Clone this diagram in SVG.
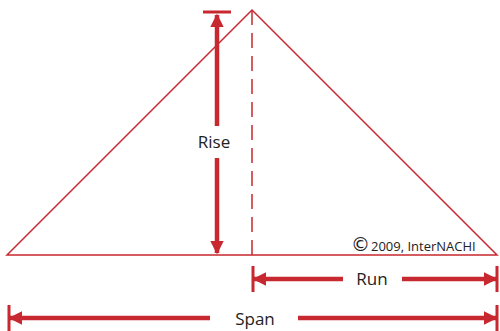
<svg xmlns="http://www.w3.org/2000/svg" width="500" height="331" viewBox="0 0 500 331">
<style>
.thin{stroke:#c8282f;stroke-width:1.5;fill:none}
.dim{stroke:#c8282f;stroke-width:4.5;fill:none}
.bar{stroke:#c8282f;stroke-width:3;fill:none}
.lbl{font-family:"Open Sans","DejaVu Sans",sans-serif;font-size:17px;fill:#222}
.cp{font-family:"Open Sans","DejaVu Sans",sans-serif;font-size:13px;fill:#222}
</style>
<defs>
<marker id="ah" viewBox="0 0 10 10" refX="9" refY="5" markerWidth="3" markerHeight="3" orient="auto-start-reverse" markerUnits="strokeWidth">
<path d="M0,0 L10,5 L0,10 Z" fill="#c8282f"/>
</marker>
</defs>
<rect width="500" height="331" fill="#fff"/>
<g id="roof">
<path class="thin" d="M7,255 L252,10 L497,255 Z"/>
<line class="thin" x1="252" y1="10" x2="252" y2="255" stroke-dasharray="15,8"/>
</g>
<g id="connectors">
<line class="bar" x1="203" y1="12" x2="231" y2="12"/>
<line class="dim" x1="217" y1="126" x2="217" y2="15" marker-end="url(#ah)"/>
<line class="dim" x1="217" y1="158" x2="217" y2="253" marker-end="url(#ah)"/>
<line class="bar" x1="253" y1="266" x2="253" y2="292"/>
<line class="bar" x1="497" y1="266" x2="497" y2="292"/>
<line class="dim" x1="343" y1="279" x2="254" y2="279" marker-end="url(#ah)"/>
<line class="dim" x1="402" y1="279" x2="496" y2="279" marker-end="url(#ah)"/>
<line class="bar" x1="9" y1="305" x2="9" y2="331"/>
<line class="bar" x1="497" y1="305" x2="497" y2="331"/>
<line class="dim" x1="210" y1="318" x2="10" y2="318" marker-end="url(#ah)"/>
<line class="dim" x1="298" y1="318" x2="496" y2="318" marker-end="url(#ah)"/>
</g>
<g id="labels">
<text class="lbl" x="214" y="148" text-anchor="middle">Rise</text>
<text class="lbl" x="372" y="285" text-anchor="middle">Run</text>
<text class="lbl" x="255" y="325" text-anchor="middle">Span</text>
<text class="cp" x="351" y="251"><tspan font-size="19px" font-family="DejaVu Sans, sans-serif">©</tspan><tspan dx="1">2009, InterNACHI</tspan></text>
</g>
</svg>
